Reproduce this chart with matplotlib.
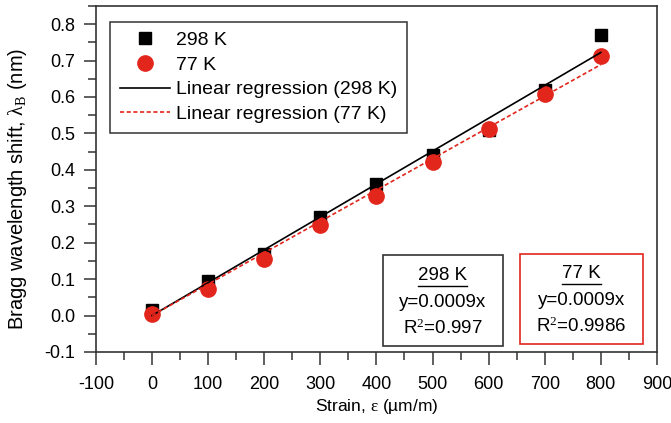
import numpy as np
import matplotlib
matplotlib.use("Agg")
import matplotlib.pyplot as plt
from matplotlib.lines import Line2D
from matplotlib.patches import Rectangle
from matplotlib.ticker import MultipleLocator

plt.rcParams["font.family"] = ["Liberation Sans", "DejaVu Sans"]
plt.rcParams["mathtext.fontset"] = "custom"
plt.rcParams["mathtext.rm"] = "Liberation Serif"
plt.rcParams["mathtext.it"] = "Liberation Serif:italic"
plt.rcParams["axes.unicode_minus"] = False

# strain values (um/m) and measured Bragg shifts (nm)
strain = np.array([0, 100, 200, 300, 400, 500, 600, 700, 800])
shift_298 = np.array([0.015, 0.095, 0.168, 0.270, 0.360, 0.440, 0.508, 0.618, 0.770])
shift_77 = np.array([0.003, 0.072, 0.155, 0.248, 0.328, 0.422, 0.512, 0.607, 0.712])

# fit summaries shown in the boxes
fit_titles = ["298 K", "77 K"]
fit_eqs = ["y=0.0009x", "y=0.0009x"]
fit_r2 = ["0.997", "0.9986"]

red = "#e2261c"
dark = "#333333"

fig = plt.figure(figsize=(6.71, 4.23), dpi=100)
ax = fig.add_axes([0.143, 0.168, 0.836, 0.818])

# regression through the origin
k298 = np.sum(strain * shift_298) / np.sum(strain ** 2)
k77 = np.sum(strain * shift_77) / np.sum(strain ** 2)

ax.plot(strain, shift_298, "s", color="black", ms=9, label="298 K", zorder=3)
ax.plot(strain, shift_77, "o", color=red, ms=11, label="77 K", zorder=4)
ax.plot(strain, k298 * strain, "-", color="black", lw=1.2,
        label="Linear regression (298 K)", zorder=5)
ax.plot(strain, k77 * strain, "--", color=red, lw=1.2, dashes=(2.5, 1.5),
        label="Linear regression (77 K)", zorder=5)

ax.set_xlim(-100, 900)
ax.set_ylim(-0.1, 0.85)
ax.xaxis.set_major_locator(MultipleLocator(100))
ax.xaxis.set_minor_locator(MultipleLocator(50))
ax.yaxis.set_major_locator(MultipleLocator(0.1))
ax.yaxis.set_minor_locator(MultipleLocator(0.05))
ax.yaxis.set_major_formatter(matplotlib.ticker.FormatStrFormatter("%.1f"))
ax.tick_params(which="major", length=9, width=1.1, color=dark, labelsize=13, pad=6)
ax.tick_params(axis="x", which="major", pad=8)
ax.tick_params(which="minor", length=5.5, width=1.1, color=dark)
ax.tick_params(top=False, right=False, which="both")
for s in ax.spines.values():
    s.set_linewidth(1.2)
    s.set_color(dark)

ax.set_xlabel("Strain, $\\mathrm{\\varepsilon}$ (µm/m)", fontsize=12.5, labelpad=3)
ax.set_ylabel("Bragg wavelength shift, $\\mathrm{\\lambda_B}$ (nm)", fontsize=14.5)
ax.yaxis.set_label_coords(-0.12, 0.47)

leg = ax.legend(loc="upper left", bbox_to_anchor=(0.025, 0.954), borderaxespad=0,
                fontsize=14, fancybox=False, edgecolor=dark, framealpha=1,
                handlelength=2.6, handletextpad=0.3, labelspacing=0.36,
                borderpad=0.5, numpoints=1)
leg.get_frame().set_linewidth(1.1)

# fit boxes
boxes = [(0.512, 0.017, 0.213, 0.263, dark), (0.756, 0.023, 0.219, 0.260, red)]
titles = []
for (x0, y0, w, h, ec), t, eq, r2 in zip(boxes, fit_titles, fit_eqs, fit_r2):
    ax.add_patch(Rectangle((x0, y0), w, h, transform=ax.transAxes, fill=False,
                           edgecolor=ec, lw=1.2, zorder=6))
    cx = x0 + w / 2
    titles.append(ax.text(cx, y0 + 0.203, t, transform=ax.transAxes, ha="center",
                          va="center", fontsize=13.5))
    ax.text(cx, y0 + 0.125, eq, transform=ax.transAxes, ha="center", va="center",
            fontsize=13.5)
    ax.text(cx, y0 + 0.052, "R$^{2}$=" + r2, transform=ax.transAxes, ha="center",
            va="center", fontsize=13.5)

# underline the box titles
fig.canvas.draw()
inv = ax.transAxes.inverted()
for t in titles:
    bb = t.get_window_extent()
    (x1, y1), (x2, _) = inv.transform([[bb.x0, bb.y0], [bb.x1, bb.y0]])
    ax.add_line(Line2D([x1, x2], [y1 - 0.004, y1 - 0.004], transform=ax.transAxes,
                       color="black", lw=1.0))

fig.savefig("out.png", dpi=100)
